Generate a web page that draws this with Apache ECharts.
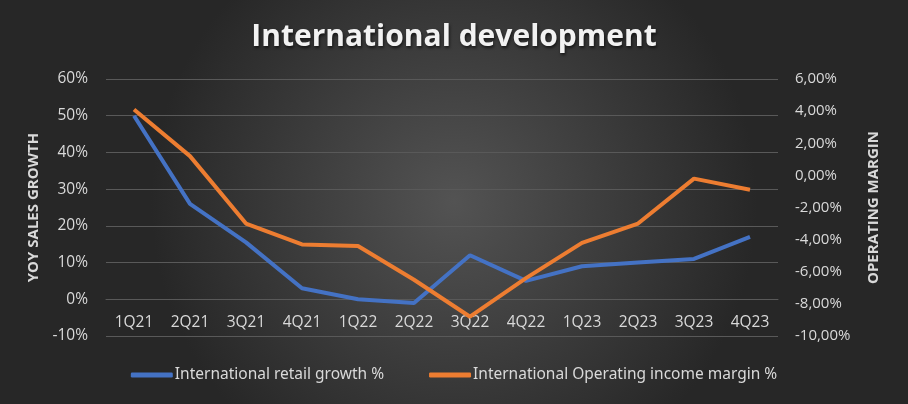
<!DOCTYPE html>
<html>
<head>
<meta charset="utf-8">
<script src="https://cdn.jsdelivr.net/npm/echarts@6/dist/echarts.min.js"></script>
<style>
  html, body { margin: 0; padding: 0; background: #3a3a3a; }
  #chart { width: 908px; height: 404px; }
</style>
</head>
<body>
<div id="chart"></div>
<script>
const quarters = ['1Q21', '2Q21', '3Q21', '4Q21', '1Q22', '2Q22', '3Q22', '4Q22', '1Q23', '2Q23', '3Q23', '4Q23'];
// yoy retail growth, percent (left axis)
const retailGrowth = [50, 26, 15.5, 3, 0, -1, 12, 5, 9, 10, 11, 17];
// operating income margin, percent (right axis)
const opMargin = [4.1, 1.2, -3.0, -4.3, -4.4, -6.5, -8.8, -6.4, -4.2, -3.0, -0.2, -0.9];

const labelColor = '#d9d9d9';
const gridColor = '#595959';

const chart = echarts.init(document.getElementById('chart'));
const option = {
    backgroundColor: {
        type: 'radial', x: 0.5, y: 0.5, r: 0.75,
        colorStops: [
            { offset: 0, color: '#535353' },
            { offset: 1, color: '#272727' }
        ]
    },
    title: {
        text: 'International development',
        left: 'center',
        top: 17,
        textStyle: {
            color: '#f2f2f2',
            fontFamily: 'Open Sans',
            fontWeight: 'bold',
            fontSize: 30,
            textShadowColor: 'rgba(0,0,0,0.6)',
            textShadowBlur: 3,
            textShadowOffsetX: 1,
            textShadowOffsetY: 2
        }
    },
    legend: {
        bottom: 16,
        left: 'center',
        itemWidth: 42,
        itemHeight: 5,
        itemGap: 45,
        icon: 'roundRect',
        textStyle: { color: labelColor, fontFamily: 'Noto Sans', fontSize: 15.5, padding: [0, 0, 0, -3] },
        data: ['International retail growth %', 'International Operating income margin %']
    },
    grid: { left: 106, right: 130, top: 79, bottom: 68 },
    xAxis: {
        type: 'category',
        data: quarters,
        boundaryGap: true,
        // labels sit just under the 0% line, like the original
        offset: -37,
        axisLine: { onZero: false, lineStyle: { color: gridColor } },
        axisTick: { show: false },
        axisLabel: { color: labelColor, fontFamily: 'Open Sans', fontSize: 15.5, margin: 16 }
    },
    yAxis: [
        {
            type: 'value',
            min: -10, max: 60, interval: 10,
            name: 'YOY SALES GROWTH',
            nameLocation: 'middle',
            nameGap: 62,
            nameTextStyle: { color: labelColor, fontFamily: 'Open Sans', fontWeight: 'bold', fontSize: 15 },
            axisLabel: { color: labelColor, fontFamily: 'Open Sans', fontSize: 15.5, margin: 18, formatter: v => v + '%' },
            splitLine: { lineStyle: { color: gridColor } }
        },
        {
            type: 'value',
            min: -10, max: 6, interval: 2,
            name: 'OPERATING MARGIN',
            nameLocation: 'middle',
            nameGap: 88,
            nameTextStyle: { color: labelColor, fontFamily: 'Open Sans', fontWeight: 'bold', fontSize: 15 },
            axisLabel: {
                color: labelColor, fontFamily: 'Open Sans', fontSize: 15, margin: 17,
                formatter: v => v.toFixed(2).replace('.', ',') + '%'
            },
            splitLine: { show: false }
        }
    ],
    series: [
        {
            name: 'International retail growth %',
            type: 'line',
            yAxisIndex: 0,
            data: retailGrowth,
            symbol: 'none',
            color: '#4472c4',
            lineStyle: { width: 4, color: '#4472c4' },
            z: 3
        },
        {
            name: 'International Operating income margin %',
            type: 'line',
            yAxisIndex: 1,
            data: opMargin,
            symbol: 'none',
            color: '#ed7d31',
            lineStyle: { width: 4, color: '#ed7d31' },
            z: 4
        }
    ]
};
chart.setOption(option);
</script>
</body>
</html>
